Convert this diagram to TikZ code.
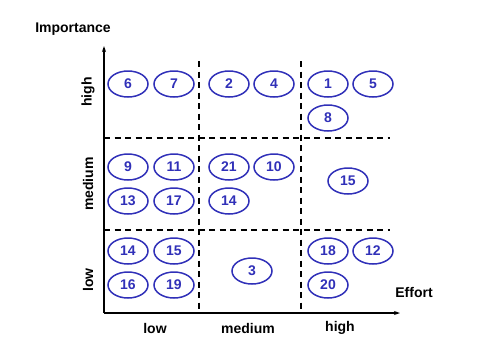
\documentclass[tikz,border=0pt]{standalone}
\usepackage{fontspec}
\setmainfont{Liberation Sans}
\usetikzlibrary{arrows.meta,shapes.geometric}

\definecolor{itemblue}{RGB}{48,48,184}

\tikzset{
  item/.style={draw=itemblue, text=itemblue, ellipse, line width=1.5pt,
    minimum width=40pt, minimum height=26pt, inner sep=0pt,
    font={\fontsize{14}{14}\selectfont\bfseries}},
  lbl/.style={font={\fontsize{14}{14}\selectfont\bfseries}},
  axis/.style={line width=1.5pt, -{Stealth[length=6pt,width=4pt]}},
  grid/.style={line width=1.8pt, dash pattern=on 6pt off 4.5pt}
}

\begin{document}
\begin{tikzpicture}[x=1pt, y=-1pt]

\useasboundingbox (0,0) rectangle (480,360);

% axes
\coordinate (origin) at (104,313);
\coordinate (ytop) at (104,46);
\coordinate (xend) at (400,313);
\draw [axis] (origin) -- (ytop);
\draw [axis] (origin) -- (xend);

% grid
\coordinate (v1top) at (199,61);
\coordinate (v1bot) at (199,311);
\coordinate (v2top) at (301,61);
\coordinate (v2bot) at (301,311);
\coordinate (h1l) at (104,138);
\coordinate (h1r) at (390,138);
\coordinate (h2l) at (104,230);
\coordinate (h2r) at (390,230);
\draw [grid] (v1top) -- (v1bot);
\draw [grid] (v2top) -- (v2bot);
\draw [grid] (h1l) -- (h1r);
\draw [grid] (h2l) -- (h2r);

% axis labels
\node [lbl] (importance) at (73,29) {Importance};
\node [lbl] (effort) at (414,292) {Effort};
\node [lbl] (x-low) at (155,328) {low};
\node [lbl] (x-medium) at (248,328) {medium};
\node [lbl] (x-high) at (340,328) {high};
\node [lbl, rotate=90] (y-high) at (88,92) {high};
\node [lbl, rotate=90] (y-medium) at (88,184) {medium};
\node [lbl, rotate=90] (y-low) at (88,280) {low};

% high importance
\node [item] (i6) at (128,84) {6};
\node [item] (i7) at (174,84) {7};
\node [item] (i2) at (229,84) {2};
\node [item] (i4) at (274,84) {4};
\node [item] (i1) at (328,84) {1};
\node [item] (i5) at (373,84) {5};
\node [item] (i8) at (328,118) {8};

% medium importance
\node [item] (i9) at (128,167) {9};
\node [item] (i11) at (174,167) {11};
\node [item] (i21) at (229,167) {21};
\node [item] (i10) at (274,167) {10};
\node [item] (i13) at (128,201) {13};
\node [item] (i17) at (174,201) {17};
\node [item] (i14-mid) at (229,201) {14};
\node [item] (i15-mid) at (348,181) {15};

% low importance
\node [item] (i14-low) at (128,251) {14};
\node [item] (i15-low) at (174,251) {15};
\node [item] (i16) at (128,285) {16};
\node [item] (i19) at (174,285) {19};
\node [item] (i3) at (252,271) {3};
\node [item] (i18) at (328,251) {18};
\node [item] (i12) at (373,251) {12};
\node [item] (i20) at (328,285) {20};

\end{tikzpicture}
\end{document}
